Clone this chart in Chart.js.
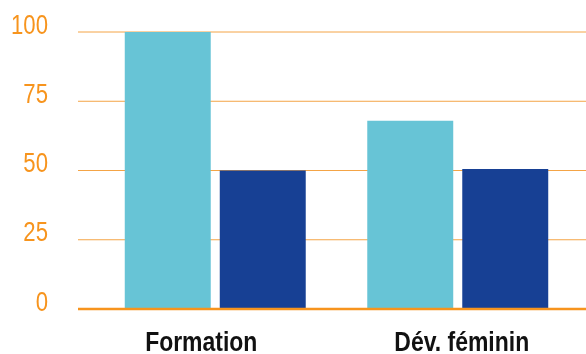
<!DOCTYPE html>
<html>
<head>
<meta charset="utf-8">
<script src="https://cdn.jsdelivr.net/npm/chart.js@4/dist/chart.umd.min.js"></script>
<style>
  html, body { margin: 0; padding: 0; background: #ffffff; }
  #wrap { width: 586px; height: 354px; position: relative; }
</style>
</head>
<body>
<div id="wrap"><canvas id="chart"></canvas></div>
<script>
// Categories and series
const categories = ['Formation', 'Dév. féminin'];
const seriesLight = [100, 68];
const seriesDark = [50, 50.5];
const yTicks = [0, 25, 50, 75, 100];

const ORANGE = '#F7941D';
const FONT = '"Liberation Sans", Arial, sans-serif';
const SQUEEZE = 0.82; // condensed lettering

// Draws text horizontally condensed around its anchor point
function condensedText(ctx, text, x, y, align) {
  ctx.save();
  ctx.translate(x, y);
  ctx.scale(SQUEEZE, 1);
  ctx.textAlign = align;
  ctx.textBaseline = 'alphabetic';
  ctx.fillText(text, 0, 0);
  ctx.restore();
}

// Horizontal rules spanning the full width, plus the heavier zero line on top of the bars
const rulesPlugin = {
  id: 'rules',
  beforeDatasetsDraw(chart) {
    const ctx = chart.ctx;
    const y = chart.scales.y;
    ctx.save();
    ctx.strokeStyle = '#F4A446';
    ctx.lineWidth = 1;
    yTicks.forEach(v => {
      if (v === 0) return;
      const py = y.getPixelForValue(v);
      ctx.beginPath();
      ctx.moveTo(78, py);
      ctx.lineTo(chart.width, py);
      ctx.stroke();
    });
    ctx.restore();
  },
  afterDatasetsDraw(chart) {
    const ctx = chart.ctx;
    const py = chart.scales.y.getPixelForValue(0);
    ctx.save();
    ctx.strokeStyle = ORANGE;
    ctx.lineWidth = 2.5;
    ctx.beginPath();
    ctx.moveTo(78, py);
    ctx.lineTo(chart.width, py);
    ctx.stroke();
    ctx.restore();
  }
};

// Axis lettering: orange value ticks on the left, bold category names underneath
const axisTextPlugin = {
  id: 'axisText',
  afterDraw(chart, args, opts) {
    const ctx = chart.ctx;
    const x = chart.scales.x;
    const y = chart.scales.y;
    ctx.save();
    ctx.font = '27px ' + FONT;
    ctx.fillStyle = ORANGE;
    yTicks.forEach(v => {
      condensedText(ctx, String(v), opts.tickRight, y.getPixelForValue(v) + 1.5, 'right');
    });
    ctx.font = 'bold 28px ' + FONT;
    ctx.fillStyle = '#111111';
    categories.forEach((name, i) => {
      const px = x.getPixelForTick(i) + (opts.shift[i] || 0);
      condensedText(ctx, name, px, opts.baseline, 'center');
    });
    ctx.restore();
  }
};

new Chart(document.getElementById('chart'), {
  type: 'bar',
  data: {
    labels: categories,
    datasets: [
      { data: seriesLight, backgroundColor: '#67C4D6', borderWidth: 0 },
      { data: seriesDark, backgroundColor: '#174094', borderWidth: 0 }
    ]
  },
  options: {
    responsive: true,
    maintainAspectRatio: false,
    animation: false,
    categoryPercentage: 0.7835,
    barPercentage: 0.905,
    layout: { padding: { top: 32, right: 7, left: 0, bottom: 0 } },
    plugins: {
      legend: { display: false },
      tooltip: { enabled: false },
      axisText: { shift: [-14, 4], baseline: 351, tickRight: 48 }
    },
    scales: {
      x: {
        grid: { display: false, drawTicks: false },
        border: { display: false },
        ticks: { display: false },
        afterFit(scale) {
          scale.height = 45;
          scale.paddingLeft = 0;
          scale.paddingRight = 0;
        }
      },
      y: {
        min: 0,
        max: 100,
        afterBuildTicks(scale) { scale.ticks = yTicks.map(v => ({ value: v })); },
        grid: { display: false, drawTicks: false },
        border: { display: false },
        ticks: { display: false },
        afterFit(scale) {
          scale.width = 94;
          scale.paddingTop = 0;
          scale.paddingBottom = 0;
        }
      }
    }
  },
  plugins: [rulesPlugin, axisTextPlugin]
});
</script>
</body>
</html>
